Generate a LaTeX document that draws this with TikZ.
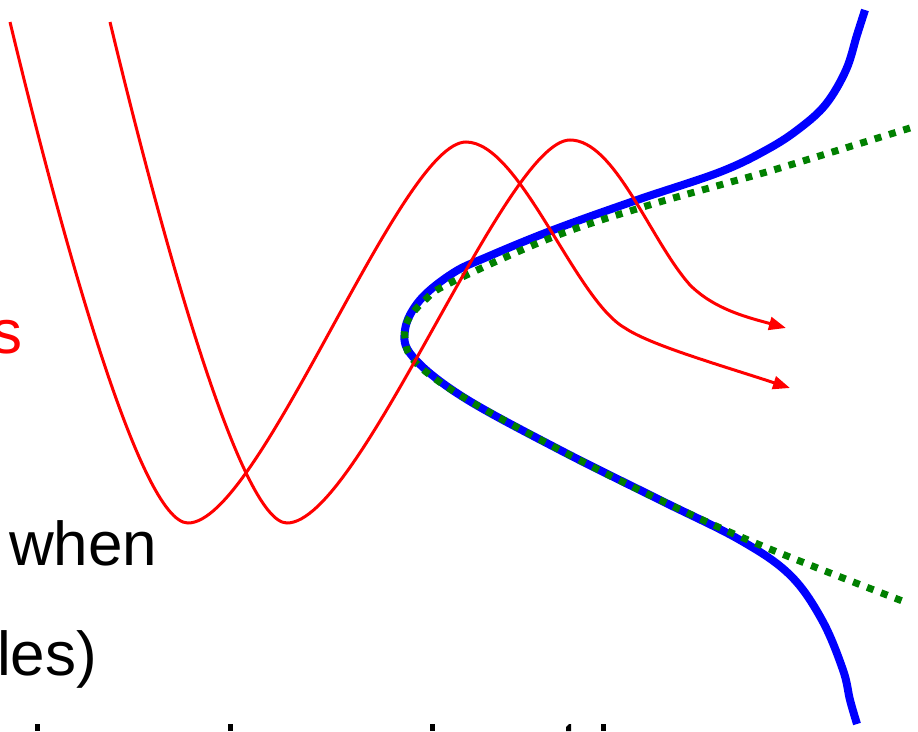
\documentclass[tikz,border=0pt]{standalone}
\usepackage{fontspec}
\setmainfont{Liberation Sans}
\usetikzlibrary{arrows.meta}
\definecolor{pgreen}{RGB}{0,128,0}
\tikzset{
  wave/.style={draw=red, line width=3pt},
  wavearrow/.style={wave, -{Triangle[length=17pt,width=13pt]}},
  bluecurve/.style={draw=blue, line width=8pt},
  greencurve/.style={draw=pgreen, line width=7pt, dash pattern=on 7pt off 8pt},
  bigtext/.style={font=\fontsize{62}{74}\selectfont, inner sep=0pt},
  stub/.style={fill=black}
}
\begin{document}
\begin{tikzpicture}[x=1pt, y=-1pt]
\useasboundingbox (0,0) rectangle (918,731);
\clip (0,0) rectangle (918,731);
\fill[white] (0,0) rectangle (918,731);

% texts (cut off at left)
\node[bigtext, text=red, anchor=base east] (ts) at (23,353) {s};
\node[bigtext, anchor=base west] (tw) at (9,565) {when};
\node[bigtext, anchor=base west] (tl) at (-3,675) {les)};

% tops of letters of the next (cut-off) line
\fill[stub] (35,724) rectangle (40,731);
\fill[stub] (228,724) rectangle (233,731);
\fill[stub] (430,724) rectangle (435,731);
\fill[stub] (566,731) -- (566,727) -- (569,724) -- (571,724) -- (571,731) -- cycle;
\fill[stub] (601,724) rectangle (606,731);

% blue curve
\draw[bluecurve] plot[smooth, tension=0.6] coordinates {
  (865,10) (857,35) (846,70) (826,104) (800,128) (768,149) (720,172) (637,200) (553,230)
  (487,257) (453,273) (420,300) (405,330) (413,357) (463,397) (560,450)
  (660,500) (740,540) (790,575) (822,620) (843,670) (850,700) (857,724)};

% green dotted hyperbola
\draw[greencurve] plot[smooth, tension=0.6] coordinates {
  (910,128) (780,168) (720,185) (643,207) (553,237) (450,283) (425,300)
  (408,320) (405,338) (415,362) (463,397) (560,450) (660,500) (760,545) (905,602)};

% red waves
\coordinate (a0) at (10,22);
\coordinate (a1) at (188,523);
\coordinate (a2) at (466,142);
\coordinate (a3) at (625,328);
\coordinate (a4) at (790,388);
\draw[wavearrow] (a0) .. controls (60,230) and (140,523) .. (a1)
  .. controls (260,523) and (400,142) .. (a2)
  .. controls (520,142) and (575,300) .. (a3)
  .. controls (650,345) and (720,365) .. (a4);

\coordinate (b0) at (110,22);
\coordinate (b1) at (287,523);
\coordinate (b2) at (570,140);
\coordinate (b3) at (690,285);
\coordinate (b4) at (786,328);
\draw[wavearrow] (b0) .. controls (160,230) and (240,523) .. (b1)
  .. controls (360,523) and (505,140) .. (b2)
  .. controls (615,140) and (650,240) .. (b3)
  .. controls (715,310) and (750,318) .. (b4);
\end{tikzpicture}
\end{document}
